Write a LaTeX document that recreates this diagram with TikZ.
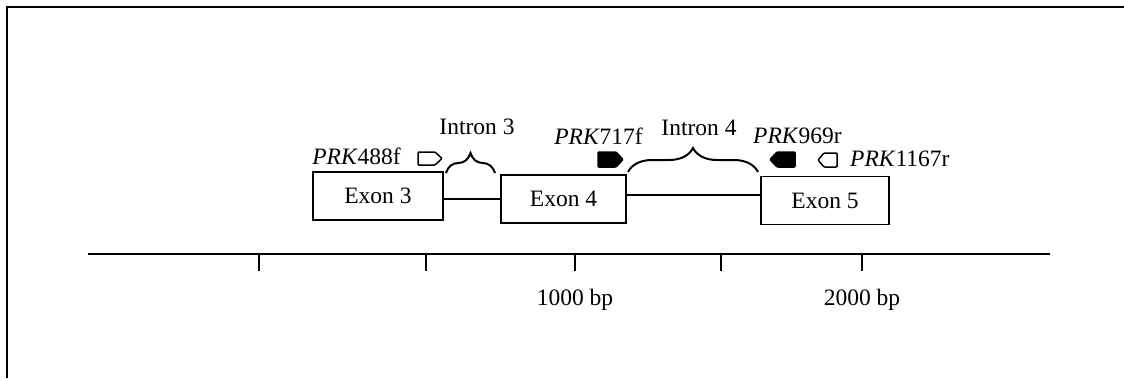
\documentclass[tikz,border=0pt]{standalone}
\usepackage{fontspec}
\setmainfont{Liberation Serif}
\usetikzlibrary{decorations.pathreplacing}
\begin{document}
\begin{tikzpicture}[x=1pt,y=-1pt,
  every node/.style={font=\fontsize{23.5}{27}\selectfont, inner sep=0pt},
  exon/.style={draw, line width=1.7pt, minimum width=130pt, minimum height=48pt},
  intronline/.style={line width=1.7pt},
  bracestyle/.style={line width=2pt, decorate, decoration={brace, amplitude=#1}},
  primer/.style={draw, line width=1.5pt, rounded corners=1pt},
  tick/.style={line width=1.3pt}]
\useasboundingbox (0,0) rectangle (1124,378);
\draw[line width=2.8pt] (7,378) -- (7,7) -- (1124,7);

% exons
\node[exon, minimum width=130pt] (e3) at (378,196) {Exon 3};
\node[exon, minimum width=125pt] (e4) at (563.5,199) {Exon 4};
\node[exon, minimum width=128pt] (e5) at (825,200.5) {Exon 5};

% introns
\draw[intronline] (e3.east |- 0,199) -- (e4.west |- 0,199);
\draw[intronline] (e4.east |- 0,195) -- (e5.west |- 0,195);

% braces
\coordinate (b3a) at (446,173);
\coordinate (b3b) at (495,173);
\coordinate (b4a) at (628,172);
\coordinate (b4b) at (758,172);
\draw[bracestyle=20pt] (b3a) -- (b3b);
\draw[bracestyle=24pt] (b4a) -- (b4b);
\node (i3) at (477,127) {Intron 3};
\node (i4) at (699,128) {Intron 4};

% primers
\draw[primer] (418,152) -- (435,152) -- (442,158.5) -- (435,165) -- (418,165) -- cycle;
\node[anchor=east] (p488) at (401,156) {\textit{PRK}488f};
\draw[primer, fill=black] (598,152) -- (616,152) -- (623,159.5) -- (616,167) -- (598,167) -- cycle;
\node[anchor=east] (p717) at (643,136) {\textit{PRK}717f};
\draw[primer, fill=black] (795,152) -- (777,152) -- (770,159.5) -- (777,167) -- (795,167) -- cycle;
\node[anchor=west] (p969) at (753,136) {\textit{PRK}969r};
\draw[primer] (837,153) -- (824,153) -- (818,160) -- (824,167) -- (837,167) -- cycle;
\node[anchor=west] (p1167) at (850,159) {\textit{PRK}1167r};

% axis
\coordinate (ax0) at (88,254);
\coordinate (ax1) at (1050,254);
\draw[line width=2.2pt] (ax0) -- (ax1);
\foreach \x in {259,426,575,721,862} \draw[tick] (\x,254) -- (\x,271);
\node (l1) at (575,300) {1000 bp};
\node (l2) at (862,300) {2000 bp};
\end{tikzpicture}
\end{document}
